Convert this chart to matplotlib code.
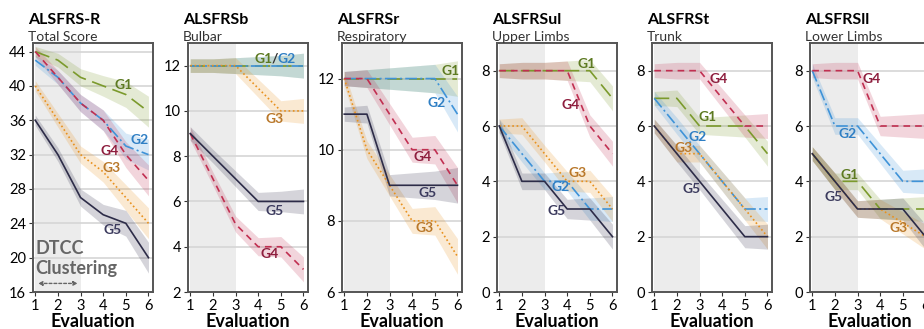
import matplotlib.pyplot as plt

plt.rcParams.update({
    "font.family": ["Lato", "DejaVu Sans"],
    "font.size": 9,
})

EVAL = [1, 2, 3, 4, 5, 6]
GROUPS = ["G1", "G2", "G3", "G4", "G5"]

TOTAL = {"G1": [44, 43, 41, 40, 39, 37], "G2": [43, 41, 38, 36, 33, 32],
         "G3": [40, 36, 32, 30, 27, 24], "G4": [44, 41, 38, 36, 32, 29],
         "G5": [36, 32, 27, 25, 24, 20]}
BULBAR = {"G1": [12, 12, 12, 12, 12, 12], "G2": [12, 12, 12, 12, 12, 12],
          "G3": [12, 12, 12, 11, 10, 10], "G4": [9, 7, 5, 4, 4, 3],
          "G5": [9, 8, 7, 6, 6, 6]}
RESP = {"G1": [12, 12, 12, 12, 12, 12], "G2": [12, 12, 12, 12, 12, 11],
        "G3": [12, 10, 9, 8, 8, 7], "G4": [12, 12, 11, 10, 10, 9],
        "G5": [11, 11, 9, 9, 9, 9]}
UPPER = {"G1": [8, 8, 8, 8, 8, 7], "G2": [6, 5, 4, 4, 3, 3],
         "G3": [6, 6, 5, 4, 4, 3], "G4": [8, 8, 8, 8, 6, 5],
         "G5": [6, 4, 4, 3, 3, 2]}
TRUNK = {"G1": [7, 7, 6, 6, 6, 5], "G2": [7, 6, 5, 4, 3, 3],
         "G3": [6, 5, 5, 4, 3, 2], "G4": [8, 8, 8, 7, 6, 6],
         "G5": [6, 5, 4, 3, 2, 2]}
LOWER = {"G1": [5, 4, 4, 3, 3, 3], "G2": [8, 6, 6, 5, 4, 4],
         "G3": [5, 4, 3, 3, 2.5, 2], "G4": [8, 8, 8, 6, 6, 6],
         "G5": [5, 4, 3, 3, 3, 2]}

# half-width of the shaded band per evaluation
CI_TOTAL = [0.6, 0.8, 1.0, 1.2, 1.5, 1.8]
CI_BULBAR = [0.3, 0.3, 0.35, 0.4, 0.45, 0.55]
CI_RESP = [0.2, 0.25, 0.3, 0.35, 0.4, 0.5]
CI_SUB = [0.25, 0.3, 0.3, 0.35, 0.4, 0.45]

TITLES = ["ALSFRS-R", "ALSFRSb", "ALSFRSr", "ALSFRSul", "ALSFRSt", "ALSFRSll"]
SUBTITLES = ["Total Score", "Bulbar", "Respiratory", "Upper Limbs", "Trunk", "Lower Limbs"]

line_col = {"G1": "#7b9a2c", "G2": "#3f93d8", "G3": "#e8911e", "G4": "#c12f51", "G5": "#2d2c48"}
text_col = {"G1": "#5d7a22", "G2": "#2f7fc4", "G3": "#b9782a", "G4": "#8e1e3e", "G5": "#3c3b5e"}
styles = {"G1": (0, (9, 4)), "G2": (0, (7, 2, 1.2, 2)), "G3": (0, (1, 1.6)),
          "G4": (0, (4, 3)), "G5": "-"}

panels = [
    (TOTAL, CI_TOTAL, (16, 45), range(16, 45, 4),
     {"G1": (4.92, 40.1), "G2": (5.6, 33.7), "G3": (4.36, 30.4), "G4": (4.29, 32.4), "G5": (4.4, 23.2)}),
    (BULBAR, CI_BULBAR, (2, 13), range(2, 13, 2),
     {"G3": (4.73, 9.65), "G4": (4.51, 3.69), "G5": (4.73, 5.6)}),
    (RESP, CI_RESP, (6, 13), range(6, 13, 2),
     {"G1": (5.68, 12.2), "G2": (5.07, 11.3), "G3": (4.55, 7.79), "G4": (4.48, 9.8), "G5": (4.7, 8.79)}),
    (UPPER, CI_SUB, (0, 9), range(0, 9, 2),
     {"G1": (4.87, 8.24), "G2": (3.73, 3.78), "G3": (4.46, 4.31), "G4": (4.14, 6.76), "G5": (3.51, 2.93)}),
    (TRUNK, CI_SUB, (0, 9), range(0, 9, 2),
     {"G1": (3.36, 6.31), "G2": (2.9, 5.6), "G3": (2.29, 5.2), "G4": (3.86, 7.7), "G5": (2.64, 3.72)}),
    (LOWER, CI_SUB, (0, 9), range(0, 9, 2),
     {"G1": (2.63, 4.24), "G2": (2.54, 5.71), "G3": (4.79, 2.31), "G4": (3.6, 7.7), "G5": (1.94, 3.42)}),
]

fig = plt.figure(figsize=(9.24, 3.29), dpi=100)
lefts = [33, 188, 342, 497, 652, 810]
W, H = 924, 329

for i, (data, ci, ylim, yticks, lab_pos) in enumerate(panels):
    ax = fig.add_axes([lefts[i] / W, 37 / H, 120 / W, 249 / H])
    ax.axvspan(1, 3, color="#ececec", zorder=0, lw=0)
    for g in GROUPS:
        y = data[g]
        lo = [v - c for v, c in zip(y, ci)]
        hi = [v + c for v, c in zip(y, ci)]
        ax.fill_between(EVAL, lo, hi, color=line_col[g], alpha=0.2, lw=0, zorder=2)
        ax.plot(EVAL, y, color=line_col[g], ls=styles[g], lw=1.2, zorder=3)
    for g, (x, yy) in lab_pos.items():
        ax.text(x, yy, g, color=text_col[g], fontsize=10, fontweight="bold",
                ha="center", va="center", zorder=4)

    ax.set_xlim(0.9, 6.2)
    ax.set_ylim(*ylim)
    ax.set_xticks(EVAL)
    ax.set_yticks(list(yticks))
    ax.yaxis.grid(True, color="#d6d6d6", lw=1.2, zorder=1)
    ax.set_axisbelow(True)
    ax.tick_params(labelsize=10.5, length=3, color="#333333", pad=2)
    for s in ax.spines.values():
        s.set_color("#555555")
        s.set_linewidth(1.4)
    ax.set_xlabel("Evaluation", fontsize=13, fontweight="bold", labelpad=0)
    ax.text(-0.04, 1.065, TITLES[i], transform=ax.transAxes, fontsize=11.5,
            fontweight="bold", ha="left", va="bottom")
    ax.text(-0.04, 1.0, SUBTITLES[i], transform=ax.transAxes, fontsize=10,
            color="#333333", ha="left", va="bottom")

    if i == 0:
        ax.text(1.0, 19.9, "DTCC\nClustering", fontsize=13, fontweight="bold",
                color="#666666", ha="left", va="center", linespacing=1.25)
        ax.annotate("", xy=(1.0, 17.0), xytext=(3.0, 17.0),
                    arrowprops=dict(arrowstyle="<|-|>", ls=(0, (2, 1.5)),
                                    color="#666666", lw=1, mutation_scale=6))
    if i == 1:
        ax.text(4.62, 12.3, "G1", color=text_col["G1"], fontsize=10,
                fontweight="bold", ha="right", va="center")
        ax.text(4.73, 12.3, "/", color="#333333", fontsize=10,
                fontweight="bold", ha="center", va="center")
        ax.text(4.84, 12.3, "G2", color=text_col["G2"], fontsize=10,
                fontweight="bold", ha="left", va="center")

fig.savefig("out.png", dpi=100)
